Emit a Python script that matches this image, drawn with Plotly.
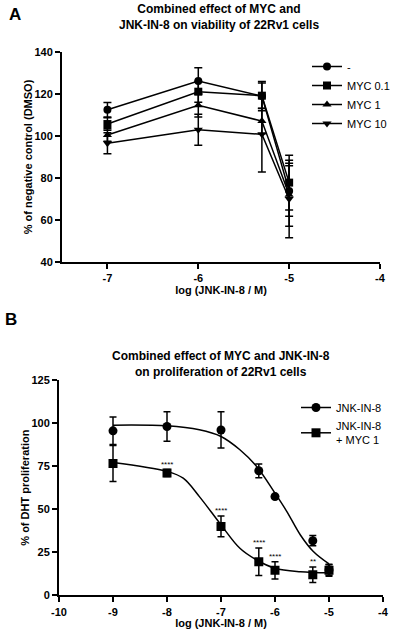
import plotly.graph_objects as go

# ---------------- Panel A data ----------------
a_x = [-7, -6, -5.3, -5]
a_names = ["-", "MYC 0.1", "MYC 1", "MYC 10"]
a_ctrl = [112.5, 126.2, 119.0, 73.8]
a_ctrl_err = [3.5, 6.3, 7.0, 12.0]
a_myc01 = [105.7, 121.1, 119.2, 77.8]
a_myc01_err = [3.0, 5.0, 6.0, 13.0]
a_myc1 = [100.5, 114.6, 107.1, 72.0]
a_myc1_err = [3.0, 5.5, 6.0, 15.0]
a_myc10 = [96.5, 103.0, 100.8, 70.0]
a_myc10_err = [5.0, 7.4, 18.0, 18.5]
a_symbols = ["circle", "square", "triangle-up", "triangle-down"]
a_xticks = [-7, -6, -5, -4]
a_xticklabels = ["-7", "-6", "-5", "-4"]
a_yticks = [40, 60, 80, 100, 120, 140]

# ---------------- Panel B data ----------------
b_x = [-9, -8, -7, -6.3, -6, -5.3, -5]
b_jnk = [95.5, 98.0, 96.0, 72.3, 57.3, 31.7, 14.7]
b_jnk_err = [8.0, 8.5, 10.5, 4.0, 1.0, 3.0, 3.0]
b_myc = [76.5, 71.0, 40.0, 19.5, 14.5, 12.0, 14.5]
b_myc_err = [10.5, 2.0, 6.0, 8.0, 5.0, 4.5, 3.5]
b_sig = ["", "****", "****", "****", "****", "**", ""]
b_xticks = [-10, -9, -8, -7, -6, -5, -4]
b_xticklabels = ["-10", "-9", "-8", "-7", "-6", "-5", "-4"]
b_yticks = [0, 25, 50, 75, 100, 125]

# fitted curves
fit_x = [-9, -8, -7.4, -7, -6.65, -6.34, -6, -5.78, -5.53, -5.29, -5]
fit_jnk = [98.8, 98.4, 96.1, 92.2, 84.5, 74.8, 59.3, 48.6, 35.0, 25.4, 18.2]
fit_x2 = [-9, -8, -7.7, -7.4, -7, -6.65, -6.34, -6, -5.53, -5]
fit_myc = [77.1, 71.9, 68.0, 57.3, 40.9, 27.3, 20.5, 15.7, 13.7, 13.1]

FONT = "Liberation Sans, Arial, sans-serif"
W, H = 398, 629


def px(xw):
    return xw / W


def py(yw):
    return 1 - yw / H


fig = go.Figure()

a_vals = [a_ctrl, a_myc01, a_myc1, a_myc10]
a_errs = [a_ctrl_err, a_myc01_err, a_myc1_err, a_myc10_err]
for name, vals, errs, sym in zip(a_names, a_vals, a_errs, a_symbols):
    fig.add_trace(go.Scatter(
        x=a_x, y=vals, name=name, mode="lines+markers",
        line=dict(color="black", width=1.5),
        marker=dict(symbol=sym, size=8, color="black"),
        error_y=dict(type="data", array=errs, color="black", thickness=1.5, width=4),
        xaxis="x", yaxis="y", legend="legend",
    ))

# Panel B fitted curves
fig.add_trace(go.Scatter(x=fit_x, y=fit_jnk, mode="lines", line=dict(color="black", width=1.5, shape="spline"),
                         showlegend=False, xaxis="x2", yaxis="y2", hoverinfo="skip"))
fig.add_trace(go.Scatter(x=fit_x2, y=fit_myc, mode="lines", line=dict(color="black", width=1.5, shape="spline"),
                         showlegend=False, xaxis="x2", yaxis="y2", hoverinfo="skip"))

fig.add_trace(go.Scatter(
    x=b_x, y=b_jnk, mode="markers", name="JNK-IN-8", showlegend=False,
    marker=dict(symbol="circle", size=9, color="black"),
    error_y=dict(type="data", array=b_jnk_err, color="black", thickness=1.5, width=3.5),
    xaxis="x2", yaxis="y2"))
fig.add_trace(go.Scatter(
    x=b_x, y=b_myc, mode="markers", name="JNK-IN-8<br>+ MYC 1", showlegend=False,
    marker=dict(symbol="square", size=9, color="black"),
    error_y=dict(type="data", array=b_myc_err, color="black", thickness=1.5, width=3.5),
    xaxis="x2", yaxis="y2"))

# legend entries for panel B (line + marker style)
for nm, sym in [("JNK-IN-8", "circle"), ("JNK-IN-8<br>+ MYC 1", "square")]:
    fig.add_trace(go.Scatter(x=[None], y=[None], mode="lines+markers", name=nm,
                             line=dict(color="black", width=1.5),
                             marker=dict(symbol=sym, size=9, color="black"),
                             xaxis="x2", yaxis="y2", legend="legend2"))

# significance stars
for xv, yv, ev, s in zip(b_x, b_myc, b_myc_err, b_sig):
    if s:
        fig.add_annotation(x=xv, y=yv + ev, text=s, showarrow=False, xref="x2", yref="y2",
                           yanchor="bottom", yshift=-1, font=dict(family=FONT, size=8, color="black"))

axis_common = dict(showline=True, linecolor="black", linewidth=2, ticks="outside", ticklen=5,
                   tickwidth=1.5, tickcolor="black", showgrid=False, zeroline=False,
                   tickfont=dict(family=FONT, size=11, color="black", weight="bold"))
title_font = dict(family=FONT, size=11, color="black", weight="bold")

fig.update_layout(
    width=W, height=H, margin=dict(l=0, r=0, t=0, b=0, autoexpand=False),
    paper_bgcolor="white", plot_bgcolor="white", showlegend=True,
    xaxis=dict(domain=[px(62), px(380)], range=[-7.5, -4], tickvals=a_xticks, ticktext=a_xticklabels,
               anchor="y", title=dict(text="log (JNK-IN-8 / M)", font=title_font, standoff=2),
               **axis_common),
    yaxis=dict(domain=[py(262), py(52)], range=[40, 140], tickvals=a_yticks,
               anchor="x", title=dict(text="% of negative control (DMSO)", font=title_font, standoff=0),
               **axis_common),
    xaxis2=dict(domain=[px(59), px(383)], range=[-10, -4], tickvals=b_xticks, ticktext=b_xticklabels,
                anchor="y2", title=dict(text="log (JNK-IN-8 / M)", font=title_font, standoff=4),
                **axis_common),
    yaxis2=dict(domain=[py(595.3), py(380)], range=[0, 125], tickvals=b_yticks,
                anchor="x2", title=dict(text="% of DHT proliferation", font=title_font, standoff=0),
                **axis_common),
    legend=dict(x=px(307), y=py(52), xanchor="left", yanchor="top", bgcolor="rgba(0,0,0,0)",
                font=dict(family=FONT, size=11, color="black"), tracegroupgap=0, itemwidth=30),
    legend2=dict(x=px(296), y=py(393), xanchor="left", yanchor="top", bgcolor="rgba(0,0,0,0)",
                 font=dict(family=FONT, size=11, color="black"), tracegroupgap=4, itemwidth=30),
)

fig.add_annotation(x=px(219), y=py(16.5), xref="paper", yref="paper", showarrow=False,
                   text="Combined effect of MYC and<br>JNK-IN-8 on viability of 22Rv1 cells",
                   font=dict(family=FONT, size=12, color="black", weight="bold"), yanchor="middle")
fig.add_annotation(x=px(221), y=py(364.5), xref="paper", yref="paper", showarrow=False,
                   text="Combined effect of MYC and JNK-IN-8<br>on proliferation of 22Rv1 cells",
                   font=dict(family=FONT, size=12, color="black", weight="bold"), yanchor="middle")
fig.add_annotation(x=px(7), y=py(14), xref="paper", yref="paper", showarrow=False, text="A",
                   xanchor="left", yanchor="middle",
                   font=dict(family=FONT, size=17, color="black", weight="bold"))
fig.add_annotation(x=px(3), y=py(319), xref="paper", yref="paper", showarrow=False, text="B",
                   xanchor="left", yanchor="middle",
                   font=dict(family=FONT, size=17, color="black", weight="bold"))

fig.write_html("out.html", config={"displayModeBar": False},
               post_script="document.body.style.margin='0';")
